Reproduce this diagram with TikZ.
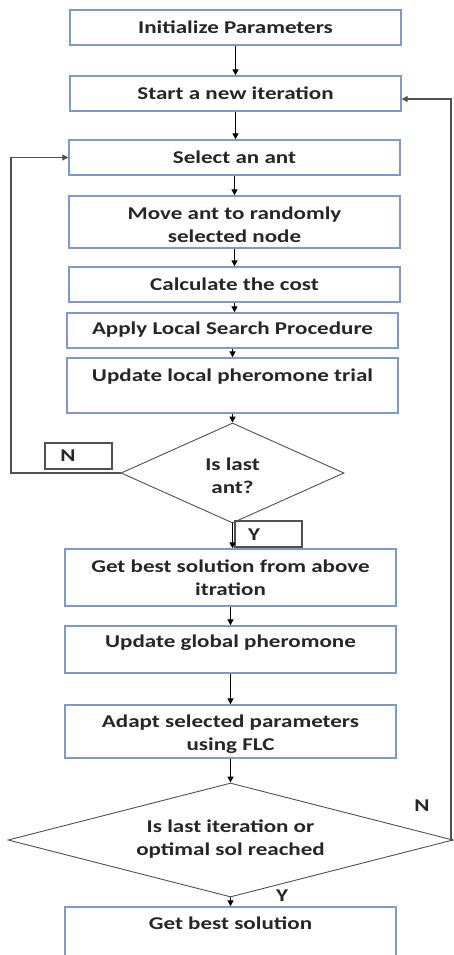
\documentclass[tikz,border=0pt]{standalone}
\usepackage{fontspec}
\setmainfont{Carlito}[FakeStretch=1.28]
\usetikzlibrary{arrows.meta,shapes.geometric}
\definecolor{boxblue}{HTML}{7F9AC8}
\definecolor{txt}{HTML}{262626}
\definecolor{dline}{HTML}{505050}
\tikzset{
  box/.style={draw=boxblue,line width=1.4pt,rectangle,inner sep=0pt},
  lbl/.style={text=txt,font=\fontsize{18}{23}\selectfont\bfseries,align=center,inner sep=0pt},
  small/.style={draw=dline,line width=1.1pt,rectangle,inner sep=0pt},
  dia/.style={draw=dline,line width=0.9pt,diamond,inner sep=0pt},
  arr/.style={draw=black,line width=1.3pt,-{Triangle[length=6pt,width=6pt]}},
  loop/.style={draw=dline,line width=1.1pt,-{Triangle[length=6pt,width=6pt]}}
}
\begin{document}
\begin{tikzpicture}[x=1pt,y=-1pt]
\useasboundingbox (0,0) rectangle (454,955);
\clip (0,0) rectangle (454,955);
\fill[white] (0,0) rectangle (454,955);
% boxes
\node[box,minimum width=331pt,minimum height=35pt] (init) at (235.5,27.5) {};
\node[box,minimum width=331pt,minimum height=35pt] (start) at (235.5,93.5) {};
\node[box,minimum width=331pt,minimum height=35pt] (select) at (234.5,157.5) {};
\node[box,minimum width=331pt,minimum height=52pt] (move) at (234.5,222) {};
\node[box,minimum width=331pt,minimum height=35pt] (calc) at (234.5,284.5) {};
\node[box,minimum width=331pt,minimum height=35pt] (apply) at (232.5,330.5) {};
\node[box,minimum width=331pt,minimum height=55pt] (uloc) at (232.5,385.5) {};
\node[dia,minimum width=223pt,minimum height=100pt] (d1) at (232.5,473) {};
\node[box,minimum width=331pt,minimum height=57pt] (best1) at (230.5,577.5) {};
\node[box,minimum width=331pt,minimum height=47pt] (uglob) at (230.5,649.5) {};
\node[box,minimum width=331pt,minimum height=53pt] (adapt) at (230.5,731.5) {};
\node[dia,minimum width=445pt,minimum height=114pt] (d2) at (230.5,840) {};
\node[box,minimum width=331pt,minimum height=63pt] (final) at (230.5,938.5) {};
\node[small,minimum width=67pt,minimum height=26pt] (nbox) at (78.5,456) {};
\node[small,minimum width=67pt,minimum height=26pt] (ybox) at (268.5,534) {};
% texts
\node[lbl] (tinit) at (235.5,27) {Initialize Parameters};
\node[lbl] (tstart) at (235.5,93) {Start a new iteration};
\node[lbl] (tselect) at (234.5,157) {Select an ant};
\node[lbl] (tmove) at (234.5,225) {Move ant to randomly\\selected node};
\node[lbl] (tcalc) at (234.5,284) {Calculate the cost};
\node[lbl] (tapply) at (232.5,330) {Apply Local Search Procedure};
\node[lbl] (tuloc) at (232.5,377) {Update local pheromone trial};
\node[lbl] (td1) at (232.5,476) {Is last\\ant?};
\node[lbl] (tbest1) at (230.5,578) {Get best solution from above\\itration};
\node[lbl] (tuglob) at (230.5,643) {Update global pheromone};
\node[lbl] (tadapt) at (230.5,734) {Adapt selected parameters\\using FLC};
\node[lbl] (td2) at (230.5,839) {Is last iteration or\\optimal sol reached};
\node[lbl] (tfinal) at (230.5,923) {Get best solution};
\node[lbl] (tn) at (68,456) {N};
\node[lbl] (ty) at (254,535) {Y};
\node[lbl] (tn2) at (422,806) {N};
\node[lbl] (ty2) at (282,896) {Y};
% connectors
\draw[arr] (init.south) -- (init.south |- start.north);
\draw[arr] (start.south) -- (start.south |- select.north);
\draw[arr] (select.south) -- (select.south |- move.north);
\draw[arr] (move.south) -- (move.south |- calc.north);
\draw[arr] (calc.south) -- (calc.south |- apply.north);
\draw[arr] (apply.south) -- (apply.south |- uloc.north);
\draw[arr] (uloc.south) -- (uloc.south |- d1.north);
\draw[arr] (d1.south) -- (d1.south |- best1.north);
\draw[arr] (best1.south) -- (best1.south |- uglob.north);
\draw[arr] (uglob.south) -- (uglob.south |- adapt.north);
\draw[arr] (adapt.south) -- (adapt.south |- d2.north);
\draw[arr] (d2.south) -- (d2.south |- final.north);
\coordinate (lc) at (11,473);
\coordinate (rc) at (451,99);
\draw[loop] (d1.west) -- (lc) |- (select.west);
\draw[loop] (d2.east) -| (rc) -- (start.east |- rc);
\end{tikzpicture}
\end{document}
